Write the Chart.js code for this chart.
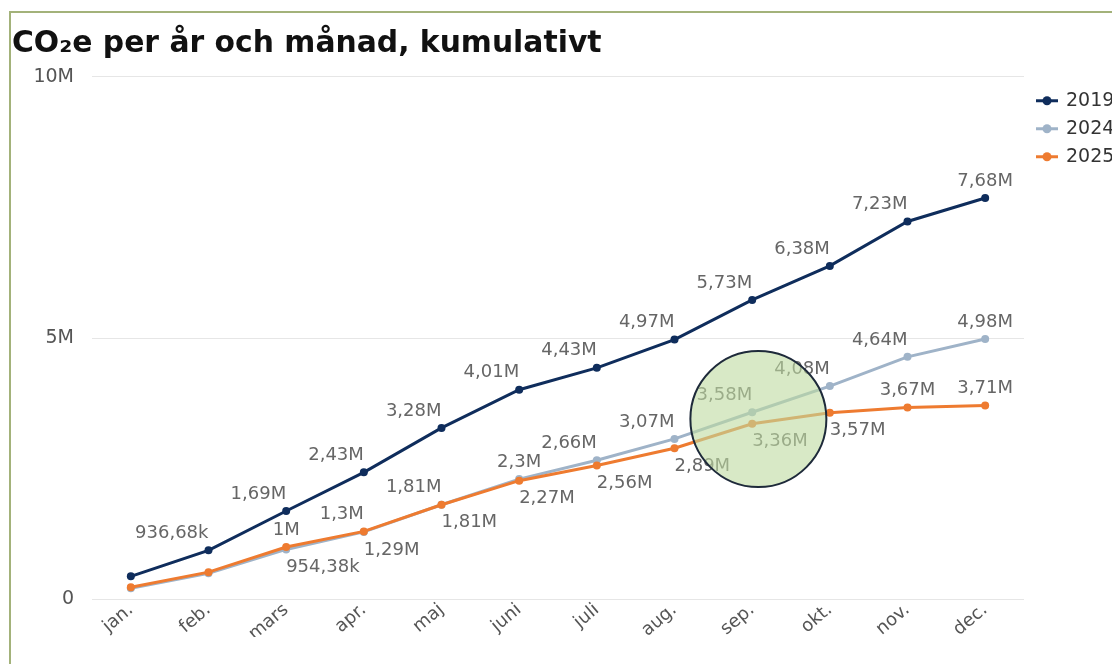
<!DOCTYPE html>
<html>
<head>
<meta charset="utf-8">
<script src="https://cdn.jsdelivr.net/npm/chart.js@4"></script>
<style>
 body{margin:0;background:#fff;overflow:hidden;}
 #frame{position:absolute;left:9px;top:11px;width:1200px;height:700px;border-left:2px solid #a3b27a;border-top:2px solid #a3b27a;}
 #box{position:absolute;left:12px;top:14px;width:1100px;height:650px;}
</style>
</head>
<body>
<div id="frame"></div>
<div id="box"><canvas id="co2"></canvas></div>
<script>
const months=["jan.","feb.","mars","apr.","maj","juni","juli","aug.","sep.","okt.","nov.","dec."];
const years=["2019","2024","2025"];
const y2019=[440000,936680,1690000,2430000,3280000,4010000,4430000,4970000,5730000,6380000,7230000,7680000];
const y2024=[210000,500000,954380,1290000,1810000,2300000,2660000,3070000,3580000,4080000,4640000,4980000];
const y2025=[230000,520000,1000000,1300000,1810000,2270000,2560000,2890000,3360000,3570000,3670000,3710000];
const yTicks=[0,5000000,10000000];

// value label placement: R above, ending at the point; C above, centred; B below, starting at the point
const place2019=["","R","R","R","R","R","R","R","R","R","R","C"];
const place2024=["","","B","B","B","C","R","R","R","R","R","C"];
const place2025=["","","C","R","R","B","B","B","B","B","C","C"];
const colors=["#0f2d5c","#9fb3c8","#ee7b30"];

function fmt(v){
  if(v>=1e6) return (Math.round(v/1e4)/100).toString().replace(".",",")+"M";
  return (Math.round(v/10)/100).toString().replace(".",",")+"k";
}

const overlay={
  id:"overlay",
  afterDatasetsDraw(chart){
    const ctx=chart.ctx;
    const places=[place2019,place2024,place2025];
    ctx.save();
    ctx.font="18px 'DejaVu Sans'";
    ctx.fillStyle="#666";
    ctx.textBaseline="middle";
    chart.data.datasets.forEach((ds,i)=>{
      chart.getDatasetMeta(i).data.forEach((pt,j)=>{
        const p=places[i][j];
        if(!p) return;
        let dy=-17;
        ctx.textAlign="center";
        if(p=="R") ctx.textAlign="right";
        if(p=="B"){ctx.textAlign="left";dy=18;}
        ctx.fillText(fmt(ds.data[j]),pt.x,pt.y+dy);
      });
    });
    ctx.restore();
  },
  afterDraw(chart){
    const ctx=chart.ctx, xs=chart.scales.x, ys=chart.scales.y;
    // highlight circle
    ctx.save();
    ctx.beginPath();
    ctx.arc(xs.getPixelForValue(8.08),ys.getPixelForValue(3450000),68,0,Math.PI*2);
    ctx.fillStyle="rgba(190,218,160,0.6)";
    ctx.fill();
    ctx.lineWidth=2;
    ctx.strokeStyle="#1e2a3a";
    ctx.stroke();
    // legend
    const lx=chart.chartArea.right+12;
    ctx.font="19px 'DejaVu Sans'";
    ctx.textBaseline="middle";
    years.forEach((y,i)=>{
      const ly=chart.chartArea.top+24+i*28;
      ctx.strokeStyle=colors[i];ctx.lineWidth=3;
      ctx.beginPath();ctx.moveTo(lx,ly);ctx.lineTo(lx+22,ly);ctx.stroke();
      ctx.fillStyle=colors[i];
      ctx.beginPath();ctx.arc(lx+11,ly,4.5,0,Math.PI*2);ctx.fill();
      ctx.fillStyle="#333";
      ctx.fillText(y,lx+30,ly);
    });
    ctx.restore();
  }
};

new Chart(document.getElementById("co2"),{
  type:"line",
  data:{
    labels:months,
    datasets:[
      {label:years[0],data:y2019,borderColor:colors[0],backgroundColor:colors[0],order:0},
      {label:years[1],data:y2024,borderColor:colors[1],backgroundColor:colors[1],order:2},
      {label:years[2],data:y2025,borderColor:colors[2],backgroundColor:colors[2],order:1}
    ]
  },
  options:{
    responsive:true,
    maintainAspectRatio:false,
    animation:false,
    elements:{
      line:{borderWidth:3,tension:0},
      point:{radius:4,borderWidth:0}
    },
    layout:{padding:{left:0,right:88,top:0,bottom:27}},
    plugins:{
      legend:{display:false},
      tooltip:{enabled:false},
      title:{
        display:true,
        text:"CO\u2082e per år och månad, kumulativt",
        align:"start",
        color:"#111",
        font:{family:"'DejaVu Sans'",size:29.8,weight:"bold"},
        padding:{top:12,bottom:15}
      }
    },
    scales:{
      x:{
        offset:true,
        grid:{display:false},
        border:{display:false},
        afterFit(axis){axis.paddingLeft=0;axis.paddingRight=0;},
        ticks:{color:"#555",font:{family:"'DejaVu Sans'",size:18},minRotation:40,maxRotation:40,padding:-8}
      },
      y:{
        min:0,max:10000000,
        afterBuildTicks(axis){axis.ticks=yTicks.map(v=>({value:v}));},
        afterFit(axis){axis.width=80;},
        grid:{color:"#e6e6e6",drawTicks:false},
        border:{display:false},
        ticks:{color:"#555",font:{family:"'DejaVu Sans'",size:19},padding:18,
          callback:v=>v==0?"0":(v/1e6)+"M"}
      }
    }
  },
  plugins:[overlay]
});
</script>
</body>
</html>
